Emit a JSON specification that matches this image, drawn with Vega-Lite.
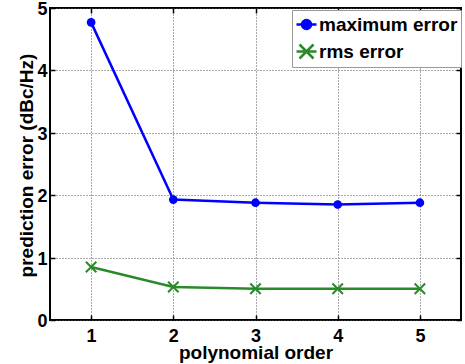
{
  "$schema": "https://vega.github.io/schema/vega-lite/v6.json",
  "width": 411,
  "height": 312,
  "autosize": "none",
  "padding": {"left": 50, "top": 8, "right": 4, "bottom": 44},
  "background": "white",
  "config": {
    "font": "Liberation Sans",
    "view": {"stroke": "black", "strokeWidth": 2},
    "axis": {
      "domain": false,
      "labelFont": "Liberation Sans",
      "labelFontWeight": "bold",
      "labelFontSize": 18,
      "labelColor": "black",
      "titleFont": "Liberation Sans",
      "titleFontWeight": "bold",
      "titleFontSize": 19,
      "titleColor": "black",
      "tickColor": "black",
      "tickWidth": 1.5,
      "tickSize": -5,
      "grid": true,
      "gridColor": "#555555",
      "gridDash": [1, 2],
      "gridWidth": 1
    }
  },
  "data": {
    "values": [
      {"order": 1, "series": "maximum error", "error": 4.77},
      {"order": 2, "series": "maximum error", "error": 1.93},
      {"order": 3, "series": "maximum error", "error": 1.88},
      {"order": 4, "series": "maximum error", "error": 1.85},
      {"order": 5, "series": "maximum error", "error": 1.88},
      {"order": 1, "series": "rms error", "error": 0.85},
      {"order": 2, "series": "rms error", "error": 0.53},
      {"order": 3, "series": "rms error", "error": 0.5},
      {"order": 4, "series": "rms error", "error": 0.5},
      {"order": 5, "series": "rms error", "error": 0.5}
    ]
  },
  "layer": [
    {
      "encoding": {
        "x": {
          "field": "order",
          "type": "quantitative",
          "scale": {"domain": [0.5, 5.5], "nice": false, "zero": false},
          "axis": {
            "values": [1, 2, 3, 4, 5],
            "title": "polynomial order",
            "labelPadding": 12,
            "titleX": 205.5,
            "titleY": 38,
            "titleAlign": "center",
            "titleBaseline": "alphabetic"
          }
        },
        "y": {
          "field": "error",
          "type": "quantitative",
          "scale": {"domain": [0, 5], "nice": false},
          "axis": {
            "values": [0, 1, 2, 3, 4, 5],
            "title": "prediction error (dBc/Hz)",
            "labelPadding": 8,
            "labelOffset": 1.5,
            "titleX": -18,
            "titleY": 157,
            "titleAngle": 270,
            "titleAlign": "center",
            "titleBaseline": "alphabetic"
          }
        }
      },
      "layer": [
        {
          "mark": {"type": "line", "strokeWidth": 2.5},
          "encoding": {
            "color": {
              "field": "series",
              "type": "nominal",
              "scale": {"domain": ["maximum error", "rms error"], "range": ["#0000ff", "#2a8a2a"]},
              "legend": {
                "title": null,
                "orient": "none",
                "legendX": 242,
                "legendY": 2,
                "direction": "vertical",
                "fillColor": "white",
                "strokeColor": "#999999",
                "padding": 3,
                "rowPadding": 4,
                "labelFont": "Liberation Sans",
                "labelFontWeight": "bold",
                "labelFontSize": 19,
                "labelColor": "black",
                "labelOffset": 1,
                "symbolSize": 400,
                "encode": {
                  "symbols": {
                    "update": {
                      "shape": {"signal": "datum.value === 'maximum error' ? 'M-1,0H1M0.45,0A0.45,0.45,0,1,1,-0.45,0A0.45,0.45,0,1,1,0.45,0' : 'M-1,0H1M-0.7,-0.7L0.7,0.7M-0.7,0.7L0.7,-0.7'"},
                      "fill": {"signal": "datum.value === 'maximum error' ? '#0000ff' : 'transparent'"},
                      "stroke": {"signal": "datum.value === 'maximum error' ? '#0000ff' : '#2a8a2a'"},
                      "strokeWidth": {"value": 2.5},
                      "opacity": {"value": 1}
                    }
                  }
                }
              }
            }
          }
        },
        {
          "transform": [{"filter": "datum.series === 'maximum error'"}],
          "mark": {"type": "point", "shape": "circle", "filled": true, "size": 75, "color": "#0000ff", "opacity": 1}
        }
      ]
    },
    {
      "transform": [{"filter": "datum.series === 'rms error'"}],
      "mark": {"type": "point", "shape": "M-1,-1L1,1M-1,1L1,-1", "filled": false, "size": 110, "color": "#2a8a2a", "strokeWidth": 2, "opacity": 1},
      "encoding": {
        "x": {
          "field": "order",
          "type": "quantitative",
          "scale": {"domain": [0.5, 5.5], "nice": false, "zero": false},
          "axis": {"orient": "top", "values": [1, 2, 3, 4, 5], "labels": false, "title": null, "grid": false}
        },
        "y": {
          "field": "error",
          "type": "quantitative",
          "scale": {"domain": [0, 5], "nice": false},
          "axis": {"orient": "right", "values": [0, 1, 2, 3, 4, 5], "labels": false, "title": null, "grid": false}
        }
      }
    }
  ],
  "resolve": {"axis": {"x": "independent", "y": "independent"}}
}
